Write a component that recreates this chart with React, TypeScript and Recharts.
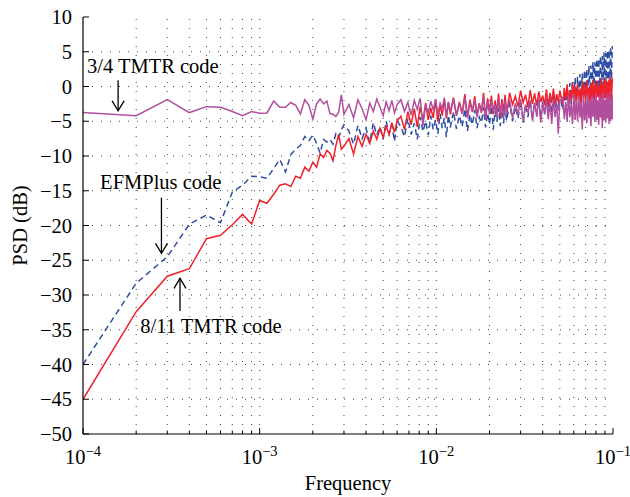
import { LineChart, Line, XAxis, YAxis, ReferenceLine, ReferenceDot } from 'recharts';

const FONT = '"Liberation Serif", "Times New Roman", serif';

// FFT bin numbers (frequency = bin * 1e-4)
const lowBins = Array.from({ length: 30 }, (_, i) => i + 1);
const binSteps = [
  [32, 60, 2],
  [63, 120, 3],
  [125, 250, 5],
  [260, 500, 10],
  [520, 1000, 10],
];
const bins = [...lowBins];
binSteps.forEach(([from, to, step]) => {
  for (let k = from; k <= to; k += step) bins.push(k);
});

// EFMPlus code (blue, dashed)
const efmPlus = [
  -40, -28.3, -24.5, -19.8, -18.5, -19.6, -15.2, -14.2, -12.9, -13.0,
  -13.2, -11.8, -10.5, -12.3, -9.8, -9.0, -8.5, -7.2, -7.8, -7.0,
  -8.2, -9.6, -7.6, -8.0, -7.6, -8.3, -6.8, -7.4, -6.2, -5.5,
  -6.4, -8.3, -5.6, -7.5, -6.0, -8.1, -5.2, -7.0, -5.8, -7.6, -5.0, -6.8, -5.5, -7.9, -4.9,
  -5.8, -7.2, -4.6, -6.9, -5.3, -7.6, -4.4, -6.5, -5.0, -7.0,
  -4.2, -6.2, -4.8, -6.8, -3.9, -6.0, -4.5, -7.3, -4.1, -5.9,
  -3.6, -6.1, -4.2, -5.8, -3.2, -6.4, -4.0, -5.5, -3.4, -6.0,
  -4.4, -5.2, -3.0, -5.9, -3.8, -5.4, -2.8, -6.2, -3.5, -5.0,
  -3.1, -5.7, -2.7, -5.3, -3.3, -4.9,
  -2.4, -5.0, -2.9, -4.6, -2.0, -5.2, -2.6, -4.4, -1.9, -4.8,
  -2.3, -4.3, -1.7, -4.6, -2.1, -4.0, -1.5, -4.2, -1.8, -3.8,
  -1.2, -3.9, -1.4, -3.4, -1.0,
  -3.4, -0.8, -3.0, -0.2, -2.8, 0.5, -2.5, 0.7, -2.2, 1.2,
  -2.0, 1.4, -1.8, 1.8, -1.5, 1.9, -1.3, 2.4, -1.2, 2.5,
  -0.9, 3.0, -0.8, 3.0, -0.6, 3.5, -0.5, 3.5, -0.3, 4.0,
  -0.3, 4.0, -0.1, 4.4, -0.2, 4.4, 0.1, 4.9, 0.0, 4.8,
  0.3, 5.2, 0.2, 5.3, 0.5, 5.7, 0.4, 5.8, 5.3,
];

// 8/11 TMTR code (red)
const tmtr811 = [
  -45, -32.4, -27.3, -26.2, -21.9, -21.4, -19.9, -18.4, -19.8, -16.4,
  -16.8, -15.5, -14.2, -14.0, -14.4, -12.9, -13.2, -11.6, -12.2, -10.9,
  -11.6, -9.7, -10.2, -9.2, -9.6, -10.7, -8.5, -6.9, -9.0, -8.6,
  -7.5, -9.7, -7.2, -8.6, -6.9, -8.2, -6.4, -7.6, -6.0, -7.3, -5.7, -6.9, -5.2, -6.6, -4.9,
  -4.3, -6.2, -3.6, -5.5, -3.2, -5.8, -2.9, -5.0, -2.4, -4.8,
  -3.1, -4.5, -2.0, -5.1, -2.6, -4.2, -1.8, -4.6, -2.3, -4.0,
  -1.6, -4.2, -2.2, -3.9, -1.1, -4.4, -1.9, -3.6, -1.4, -4.1,
  -2.4, -3.8, -0.9, -4.5, -1.7, -3.5, -1.3, -4.0, -2.0, -3.7,
  -1.0, -4.3, -1.8, -3.6, -1.2, -3.9,
  -0.9, -2.6, -1.4, -2.9, -0.6, -2.3, -1.2, -3.0, -0.5, -2.5,
  -1.0, -2.8, -0.7, -2.2, -1.3, -2.7, -0.4, -2.9, -0.9, -2.4,
  -0.3, -2.6, -1.1, -2.3, -0.6,
  -2.6, -0.2, -1.9, 0.3, -2.8, -0.5, -2.1, 0.6, -1.7, 0.0,
  -2.5, 0.4, -2.0, -0.3, -2.7, 0.7, -1.6, 0.2, -2.3, 0.9,
  -1.9, -0.1, -2.6, 0.5, -1.8, 1.0, -2.2, 0.3, -2.9, 0.8,
  -1.5, 0.1, -2.4, 1.1, -2.0, 0.4, -2.7, 0.9, -1.7, 1.3,
  -2.3, 0.6, -1.9, 1.0, -2.5, 1.4, -1.8, 0.7, 1.2,
];

// 3/4 TMTR code (magenta)
const tmtr34 = [
  -3.75, -4.2, -1.9, -3.75, -2.9, -3.0, -3.6, -4.2, -3.6, -3.85,
  -3.8, -2.1, -3.0, -3.0, -2.3, -2.7, -3.95, -1.9, -2.7, -4.7,
  -2.5, -1.8, -2.5, -2.1, -3.9, -4.0, -4.3, -3.7, -1.2, -4.0,
  -2.6, -4.5, -1.9, -3.2, -4.8, -2.4, -3.6, -1.8, -3.0, -4.2, -2.2, -3.5, -2.0, -3.8, -2.6,
  -1.9, -3.6, -2.3, -4.1, -2.0, -3.3, -1.7, -5.6, -2.6, -3.9,
  -2.1, -3.4, -1.8, -4.0, -2.4, -3.2, -1.6, -4.3, -2.2, -3.6,
  -1.8, -4.2, -2.5, -3.9, -1.6, -4.6, -2.3, -3.7, -1.9, -4.4,
  -2.7, -3.5, -1.5, -4.8, -2.2, -4.0, -1.9, -3.6, -2.6, -4.5,
  -1.7, -3.9, -2.4, -4.7, -2.0, -3.8,
  -1.9, -4.6, -2.4, -4.1, -1.8, -5.0, -2.6, -3.8, -2.0, -4.9,
  -2.3, -4.3, -1.7, -5.2, -2.5, -4.0, -1.9, -4.7, -2.2, -5.4,
  -1.8, -4.4, -2.4, -6.8, -2.0,
  -1.6, -4.7, -2.2, -5.1, -1.3, -4.4, -2.5, -5.4, -1.1, -4.8,
  -1.9, -5.0, -1.4, -4.5, -2.3, -6.2, -1.2, -4.9, -1.8, -5.3,
  -1.0, -4.6, -2.1, -5.7, -1.3, -4.4, -1.7, -5.1, -0.9, -4.8,
  -2.0, -5.5, -1.2, -4.5, -1.6, -6.0, -0.8, -4.9, -1.9, -5.2,
  -1.1, -4.6, -1.5, -5.4, -0.7, -5.0, -1.8, -4.7, -1.2,
];

const decades = [1e-4, 1e-3, 1e-2];
const mantissas = [1, 2, 3, 4, 5, 6, 7, 8, 9];
const xTicks = [...decades.flatMap((d) => mantissas.map((m) => m * d)), 1e-1];
const yTicks = [-50, -45, -40, -35, -30, -25, -20, -15, -10, -5, 0, 5, 10];

const data = bins.map((k, i) => ({
  f: k * 1e-4,
  efm: efmPlus[i],
  t811: tmtr811[i],
  t34: tmtr34[i],
}));

const isDecade = (v: number) => Math.abs(Math.log10(v) - Math.round(Math.log10(v))) < 1e-6;
const fmt = (v: number) => (v < 0 ? '\u2212' + Math.abs(v) : String(v));

const BottomTick = (props: any) => {
  const { x, y, payload } = props;
  const v = payload.value;
  const major = isDecade(v);
  const exp = Math.round(Math.log10(v));
  return (
    <g>
      <line x1={x} y1={y} x2={x} y2={y - (major ? 6 : 3.5)} stroke="#000" />
      {major && (
        <text x={x} y={y + 30} textAnchor="middle" fontSize={20.5} fontFamily={FONT} fill="#000">
          10
          <tspan dy={-8} fontSize={14.5}>
            {fmt(exp)}
          </tspan>
        </text>
      )}
    </g>
  );
};

const TopTick = (props: any) => {
  const { x, y, payload } = props;
  const major = isDecade(payload.value);
  return <line x1={x} y1={y} x2={x} y2={y + (major ? 6 : 3.5)} stroke="#000" />;
};

const LeftTick = (props: any) => {
  const { x, y, payload } = props;
  return (
    <g>
      <line x1={x} y1={y} x2={x + 6} y2={y} stroke="#000" />
      <text x={x - 11} y={y + 7} textAnchor="end" fontSize={20.5} fontFamily={FONT} fill="#000">
        {fmt(payload.value)}
      </text>
    </g>
  );
};

const RightTick = (props: any) => {
  const { x, y } = props;
  return <line x1={x} y1={y} x2={x - 6} y2={y} stroke="#000" />;
};

const XTitle = (props: any) => {
  const { viewBox } = props;
  return (
    <text x={viewBox.x + viewBox.width / 2} y={viewBox.y + 56} textAnchor="middle" fontSize={20.5} fontFamily={FONT} fill="#000">
      Frequency
    </text>
  );
};

const YTitle = (props: any) => {
  const { viewBox } = props;
  const cx = viewBox.x + 27;
  const cy = viewBox.y + viewBox.height / 2;
  return (
    <text x={cx} y={cy} transform={`rotate(-90 ${cx} ${cy})`} textAnchor="middle" fontSize={20.5} fontFamily={FONT} fill="#000">
      PSD (dB)
    </text>
  );
};

const Arrow = (props: any) => {
  const { x1, y1, x2, y2 } = props;
  const dir = Math.sign(y2 - y1);
  return (
    <g>
      <line x1={x1} y1={y1} x2={x2} y2={y2} stroke="#000" strokeWidth={1.3} />
      <polyline
        points={`${x2 - 6},${y2 - dir * 10} ${x2},${y2} ${x2 + 6},${y2 - dir * 10}`}
        fill="none"
        stroke="#000"
        strokeWidth={1.3}
      />
    </g>
  );
};

const note = (text: string) => (props: any) => (
  <text x={props.cx} y={props.cy} fontSize={20.5} fontFamily={FONT} fill="#000">
    {text}
  </text>
);

const gridX = xTicks.filter((v) => v > 1e-4 && v < 1e-1);
const gridY = yTicks.filter((v) => v > -50 && v < 10);

export default function App() {
  return (
    <div style={{ position: 'absolute', left: 0, top: 0, background: '#fff' }}>
      <LineChart width={630} height={497} data={data} margin={{ top: 17, right: 17, bottom: 0, left: 0 }}>
        <XAxis
          dataKey="f"
          type="number"
          scale="log"
          domain={[1e-4, 1e-1]}
          allowDataOverflow
          ticks={xTicks}
          interval={0}
          tickSize={0}
          tickMargin={0}
          tickLine={false}
          tick={<BottomTick />}
          height={63}
          axisLine={{ stroke: '#000', strokeWidth: 1.2 }}
          label={XTitle}
        />
        <XAxis
          xAxisId="top"
          orientation="top"
          dataKey="f"
          type="number"
          scale="log"
          domain={[1e-4, 1e-1]}
          allowDataOverflow
          ticks={xTicks}
          interval={0}
          tickSize={0}
          tickMargin={0}
          tickLine={false}
          tick={<TopTick />}
          height={0}
          axisLine={{ stroke: '#000', strokeWidth: 1.2 }}
        />
        <YAxis
          type="number"
          domain={[-50, 10]}
          allowDataOverflow
          ticks={yTicks}
          interval={0}
          tickSize={0}
          tickMargin={0}
          tickLine={false}
          tick={<LeftTick />}
          width={83}
          axisLine={{ stroke: '#000', strokeWidth: 1.2 }}
          label={YTitle}
        />
        <YAxis
          yAxisId="right"
          orientation="right"
          type="number"
          domain={[-50, 10]}
          allowDataOverflow
          ticks={yTicks}
          interval={0}
          tickSize={0}
          tickMargin={0}
          tickLine={false}
          tick={<RightTick />}
          width={0}
          axisLine={{ stroke: '#000', strokeWidth: 1.2 }}
        />
        {gridX.map((v) => (
          <ReferenceLine key={'gx' + v} x={v} stroke="#444" strokeDasharray="1 8" />
        ))}
        {gridY.map((v) => (
          <ReferenceLine key={'gy' + v} y={v} stroke="#444" strokeDasharray="1 8" />
        ))}
        <Line dataKey="efm" stroke="#2f4ea3" strokeWidth={1.5} strokeDasharray="6 4" dot={false} isAnimationActive={false} />
        <Line dataKey="t811" stroke="#f0212a" strokeWidth={1.5} dot={false} isAnimationActive={false} />
        <Line dataKey="t34" stroke="#b24e9e" strokeWidth={1.5} dot={false} isAnimationActive={false} />
        <ReferenceLine segment={[{ x: 1.58e-4, y: 0.9 }, { x: 1.58e-4, y: -3.5 }]} shape={Arrow} />
        <ReferenceLine segment={[{ x: 2.78e-4, y: -16 }, { x: 2.78e-4, y: -24 }]} shape={Arrow} />
        <ReferenceLine segment={[{ x: 3.54e-4, y: -32.3 }, { x: 3.54e-4, y: -27.6 }]} shape={Arrow} />
        <ReferenceDot x={1.053e-4} y={2.0} r={0} shape={note('3/4 TMTR code')} />
        <ReferenceDot x={1.25e-4} y={-14.7} r={0} shape={note('EFMPlus code')} />
        <ReferenceDot x={2.11e-4} y={-35.5} r={0} shape={note('8/11 TMTR code')} />
      </LineChart>
    </div>
  );
}
